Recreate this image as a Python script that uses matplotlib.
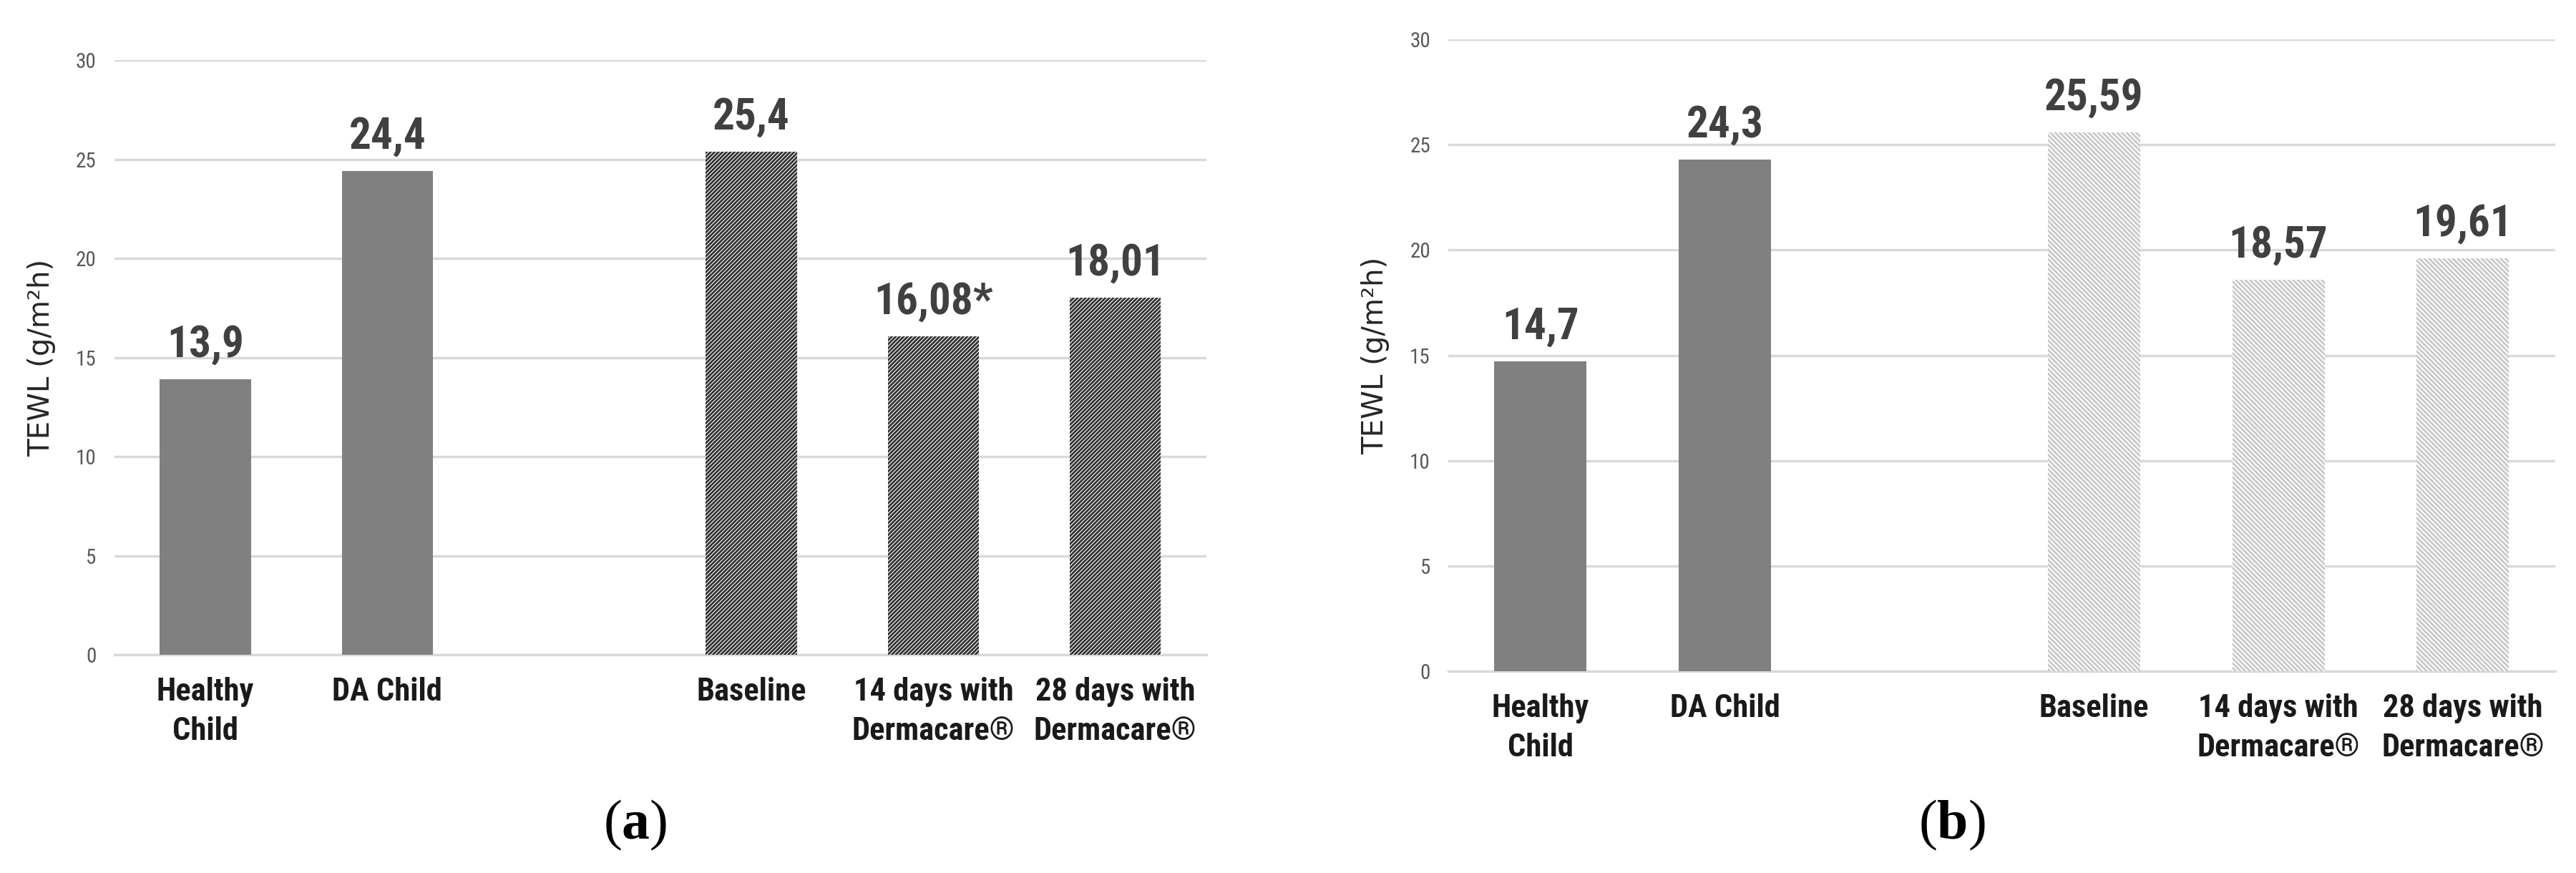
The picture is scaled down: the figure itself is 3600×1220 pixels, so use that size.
import matplotlib.pyplot as plt
from matplotlib import font_manager

plt.rcParams['hatch.linewidth'] = 2.0
plt.rcParams['mathtext.fontset'] = 'custom'
plt.rcParams['mathtext.rm'] = 'Liberation Serif'
plt.rcParams['mathtext.bf'] = 'Liberation Serif:bold'

names = {f.name for f in font_manager.fontManager.ttflist}
narrow = 'Roboto'
for cand in ['Roboto Condensed', 'Liberation Sans Narrow', 'Open Sans Condensed']:
    if cand in names:
        narrow = cand
        break

categories = ['Healthy\nChild', 'DA Child', 'Baseline',
              '14 days with\nDermacare®', '28 days with\nDermacare®']
positions = [0, 1, 3, 4, 5]

values_a = [13.9, 24.4, 25.4, 16.08, 18.01]
labels_a = ['13,9', '24,4', '25,4', '16,08*', '18,01']
values_b = [14.7, 24.3, 25.59, 18.57, 19.61]
labels_b = ['14,7', '24,3', '25,59', '18,57', '19,61']

yticks = [0, 5, 10, 15, 20, 25, 30]

fig = plt.figure(figsize=(36, 12.2), dpi=100)
ax_a = fig.add_axes([0.0444, 0.25, 0.4239, 0.681])
ax_b = fig.add_axes([0.5622, 0.2311, 0.4297, 0.7238])


def draw(ax, values, labels, hatch, hcolor):
    for i, (x, v) in enumerate(zip(positions, values)):
        if i < 2:
            ax.bar(x, v, width=0.5, color='#808080', zorder=3)
        else:
            ax.bar(x, v, width=0.5, color='white', hatch=hatch,
                   edgecolor=hcolor, linewidth=0, zorder=3)
        ax.annotate(labels[i], (x, v), xytext=(0, 14), textcoords='offset points',
                    ha='center', va='bottom', fontsize=44, fontweight='bold',
                    color='#404040', family=narrow)
    ax.set_xlim(-0.5, 5.5)
    ax.set_ylim(0, 30)
    ax.set_yticks(yticks)
    ax.set_yticklabels([str(t) for t in yticks], family=narrow, fontsize=21, color='#595959')
    ax.set_xticks(positions)
    ax.set_xticklabels(categories, family=narrow, fontsize=32, fontweight='bold',
                       color='#1a1a1a', linespacing=1.4)
    ax.tick_params(length=0, pad=18)
    ax.tick_params(axis='x', pad=22)
    ax.grid(axis='y', color='#d9d9d9', linewidth=2.5, zorder=0)
    for s in ['top', 'right', 'left']:
        ax.spines[s].set_visible(False)
    ax.spines['bottom'].set_color('#d9d9d9')
    ax.spines['bottom'].set_linewidth(2.5)
    ax.set_ylabel('TEWL (g/m²h)', fontsize=29, color='#262626', labelpad=20)


draw(ax_a, values_a, labels_a, '//////', '#303030')
draw(ax_b, values_b, labels_b, '\\\\\\\\\\', '#c8c8c8')

fig.text(0.2467, 0.055, r'$\mathrm{(}\mathbf{a}\mathrm{)}$', ha='center', va='center', fontsize=56)
fig.text(0.7578, 0.055, r'$\mathrm{(}\mathbf{b}\mathrm{)}$', ha='center', va='center', fontsize=56)

fig.savefig('out.png', dpi=100)
